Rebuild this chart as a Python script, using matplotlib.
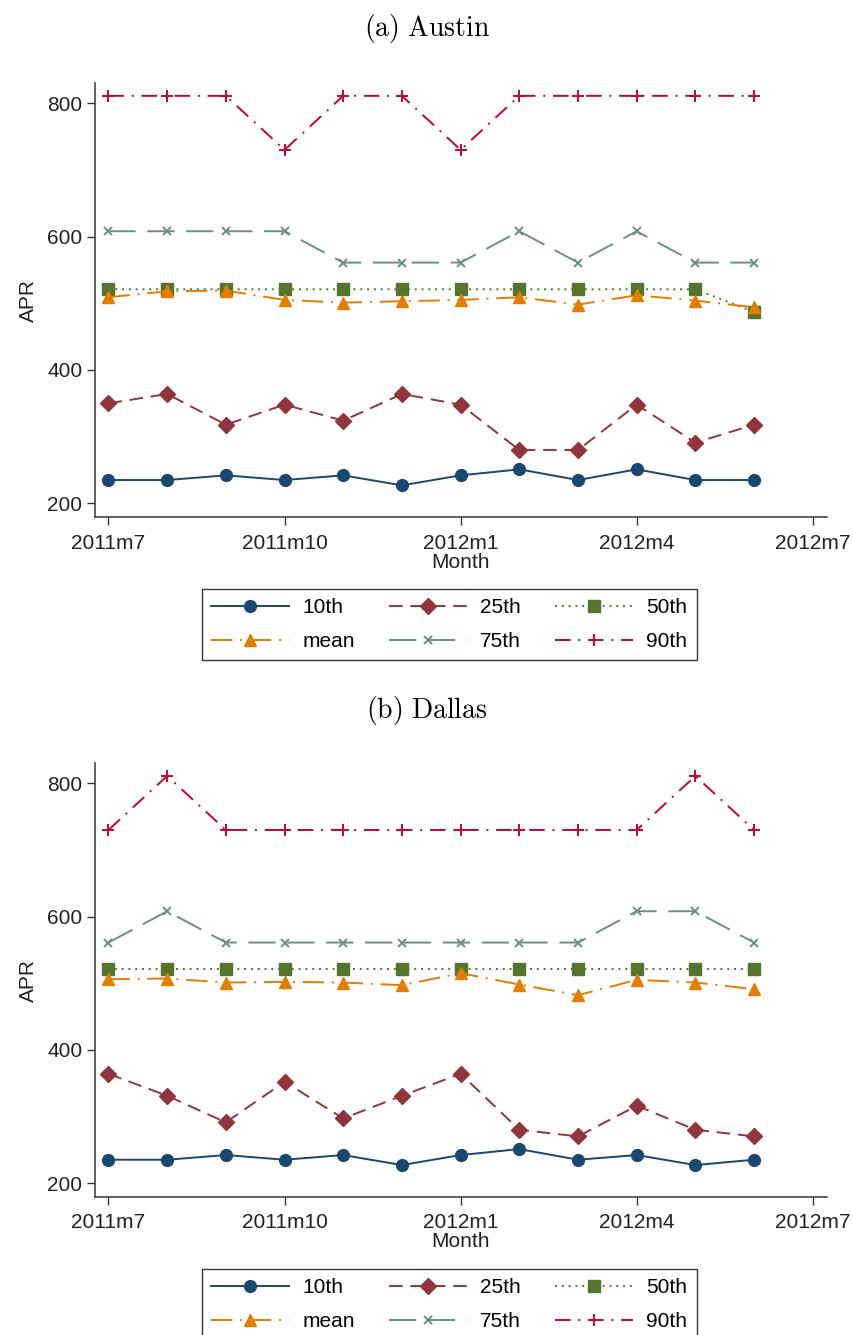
import numpy as np
import matplotlib
matplotlib.use("Agg")
import matplotlib.pyplot as plt

plt.rcParams['font.family'] = ['Liberation Sans', 'DejaVu Sans']
plt.rcParams['mathtext.fontset'] = 'cm'

months = np.arange(12)
tick_pos = [0, 3, 6, 9, 12]
tick_labels = ['2011m7', '2011m10', '2012m1', '2012m4', '2012m7']

# Austin
austin_p10 = [235, 235, 242, 235, 242, 227, 242, 251, 235, 251, 235, 235]
austin_p25 = [350, 364, 318, 348, 324, 364, 348, 280, 280, 348, 291, 318]
austin_p50 = [521, 521, 521, 521, 521, 521, 521, 521, 521, 521, 521, 487]
austin_mean = [509, 518, 519, 505, 501, 503, 505, 509, 498, 512, 504, 494]
austin_p75 = [608, 608, 608, 608, 561, 561, 561, 608, 561, 608, 561, 561]
austin_p90 = [811, 811, 811, 730, 811, 811, 730, 811, 811, 811, 811, 811]

# Dallas
dallas_p10 = [235, 235, 242, 235, 242, 227, 242, 251, 235, 242, 227, 235]
dallas_p25 = [364, 331, 291, 352, 297, 331, 364, 280, 270, 316, 280, 270]
dallas_p50 = [521, 521, 521, 521, 521, 521, 521, 521, 521, 521, 521, 521]
dallas_mean = [506, 507, 501, 502, 501, 497, 515, 498, 482, 505, 501, 491]
dallas_p75 = [561, 608, 561, 561, 561, 561, 561, 561, 561, 608, 608, 561]
dallas_p90 = [730, 811, 730, 730, 730, 730, 730, 730, 730, 730, 811, 730]

labels = ['10th', '25th', '50th', 'mean', '75th', '90th']
colors = ['#1a476f', '#90353b', '#55752f', '#e37e00', '#6e8e84', '#c10534']
markers = ['o', 'D', 's', '^', 'x', '+']
msizes = [8.5, 8, 8, 9, 5.5, 9]
dashes = [None, (7, 4), (1, 2.5), (11, 4, 1, 4), (14, 6), (8, 4, 1, 4)]

fig = plt.figure(figsize=(8.54, 13.35), dpi=100)


def panel(rect, title, title_y, series, leg_y):
    ax = fig.add_axes(rect)
    handles = []
    for vals, lab, c, m, ms, d in zip(series, labels, colors, markers, msizes, dashes):
        kw = dict(color=c, marker=m, markersize=ms, lw=1.4, label=lab,
                  markeredgecolor=c, markerfacecolor=c)
        if m in ('x', '+'):
            kw['markeredgewidth'] = 1.4
        ln, = ax.plot(months, vals, **kw)
        if d is not None:
            ln.set_dashes(d)
        else:
            ln.set_linestyle('-')
        handles.append(ln)
    ax.set_xlim(-0.23, 12.24)
    ax.set_ylim(179.5, 830)
    ax.set_yticks([200, 400, 600, 800])
    ax.set_xticks(tick_pos)
    ax.set_xticklabels(tick_labels)
    ax.tick_params(labelsize=15, length=6, width=1, colors='#333333',
                   labelcolor='#222222')
    ax.tick_params(axis='x', pad=6)
    ax.tick_params(axis='y', pad=3)
    for s in ['top', 'right']:
        ax.spines[s].set_visible(False)
    for s in ['left', 'bottom']:
        ax.spines[s].set_color('#444444')
        ax.spines[s].set_linewidth(1.2)
    ax.set_xlabel('Month', fontsize=15, labelpad=0, color='#222222')
    ax.set_ylabel('APR', fontsize=15, labelpad=7, color='#222222')
    fig.text(0.5, title_y, r'$\mathrm{' + title + '}$', ha='center', va='center', fontsize=20)
    order = [0, 3, 1, 4, 2, 5]
    leg = fig.legend([handles[i] for i in order], [labels[i] for i in order],
                     ncol=3, loc='upper center', bbox_to_anchor=(0.526, leg_y),
                     borderaxespad=0,
                     fontsize=15, frameon=True, fancybox=False, edgecolor='black',
                     handlelength=3.75, columnspacing=1.6, handletextpad=0.65,
                     borderpad=0.45, labelspacing=0.7)
    leg.get_frame().set_linewidth(1.0)
    return ax


panel([0.1112, 0.6127, 0.857, 0.325], r'(a)\ Austin', 0.979,
      [austin_p10, austin_p25, austin_p50, austin_mean, austin_p75, austin_p90], 0.5588)
panel([0.1112, 0.1036, 0.857, 0.3246], r'(b)\ Dallas', 0.468,
      [dallas_p10, dallas_p25, dallas_p50, dallas_mean, dallas_p75, dallas_p90], 0.0494)

fig.savefig('out.png', dpi=100)
